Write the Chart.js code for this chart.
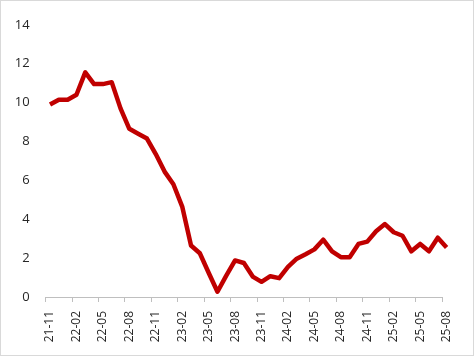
<!DOCTYPE html>
<html>
<head>
<meta charset="utf-8">
<script src="https://cdn.jsdelivr.net/npm/chart.js@4"></script>
<style>
  html, body { margin: 0; padding: 0; background: #fff; }
  #wrap { width: 474px; height: 356px; box-sizing: border-box; border: 1px solid #d9d9d9; background: #fff; }
  canvas { display: block; }
</style>
</head>
<body>
<div id="wrap"><canvas id="c" width="472" height="354"></canvas></div>
<script>
const months = ["21-11","21-12","22-01","22-02","22-03","22-04","22-05","22-06","22-07","22-08","22-09","22-10",
  "22-11","22-12","23-01","23-02","23-03","23-04","23-05","23-06","23-07","23-08","23-09","23-10",
  "23-11","23-12","24-01","24-02","24-03","24-04","24-05","24-06","24-07","24-08","24-09","24-10",
  "24-11","24-12","25-01","25-02","25-03","25-04","25-05","25-06","25-07","25-08"];
const values = [9.9,10.15,10.15,10.4,11.55,10.95,10.95,11.05,9.7,8.65,8.4,8.15,
  7.35,6.45,5.8,4.65,2.65,2.25,1.25,0.27,1.1,1.88,1.75,1.05,
  0.78,1.07,0.97,1.55,1.97,2.2,2.45,2.95,2.35,2.05,2.05,2.73,
  2.85,3.38,3.75,3.33,3.15,2.35,2.73,2.35,3.05,2.55];
const yTicks = [0,2,4,6,8,10,12,14];

const axisLine = {
  id: 'axisLine',
  afterDraw(chart) {
    const x = chart.scales.x, y = chart.scales.y;
    const n = months.length;
    const step = x.getPixelForTick(1) - x.getPixelForTick(0);
    const endX = x.getPixelForTick(n - 1) - step / 2;
    const ctx = chart.ctx;
    ctx.save();
    ctx.strokeStyle = '#bfbfbf';
    ctx.lineWidth = 1;
    ctx.beginPath();
    const yy = Math.round(y.getPixelForValue(0)) + 0.5;
    ctx.moveTo(chart.chartArea.left, yy);
    ctx.lineTo(endX, yy);
    ctx.stroke();
    ctx.restore();
  }
};

new Chart(document.getElementById('c'), {
  type: 'line',
  data: {
    labels: months,
    datasets: [{
      data: values,
      borderColor: '#c00000',
      borderWidth: 4.5,
      pointRadius: 0,
      tension: 0,
      borderJoinStyle: 'round',
      fill: false
    }]
  },
  options: {
    responsive: false,
    animation: false,
    devicePixelRatio: 1,
    layout: { padding: { left: 0, right: 22, top: 21, bottom: 0 } },
    plugins: { legend: { display: false }, tooltip: { enabled: false } },
    scales: {
      x: {
        type: 'category',
        offset: true,
        grid: {
          display: true,
          offset: true,
          drawOnChartArea: false,
          drawTicks: true,
          tickLength: 5,
          color: (ctx) => (ctx.index !== undefined && ctx.index % 3 === 0) ? '#bfbfbf' : 'rgba(0,0,0,0)'
        },
        border: { display: false },
        ticks: {
          autoSkip: false,
          maxRotation: 90,
          minRotation: 90,
          padding: 9,
          color: '#262626',
          font: { family: 'Open Sans', size: 12 },
          callback: function(v, i) { return i % 3 === 0 ? months[i] : ''; }
        },
        afterFit: (s) => { s.height = 58; }
      },
      y: {
        min: 0,
        max: 14,
        afterBuildTicks: (s) => { s.ticks = yTicks.map(v => ({ value: v })); },
        grid: { display: false, drawTicks: false },
        border: { display: false },
        ticks: {
          padding: 16,
          color: '#262626',
          font: { family: 'Open Sans', size: 13 }
        },
        afterFit: (s) => { s.width = 44.6; }
      }
    }
  },
  plugins: [axisLine]
});
</script>
</body>
</html>
